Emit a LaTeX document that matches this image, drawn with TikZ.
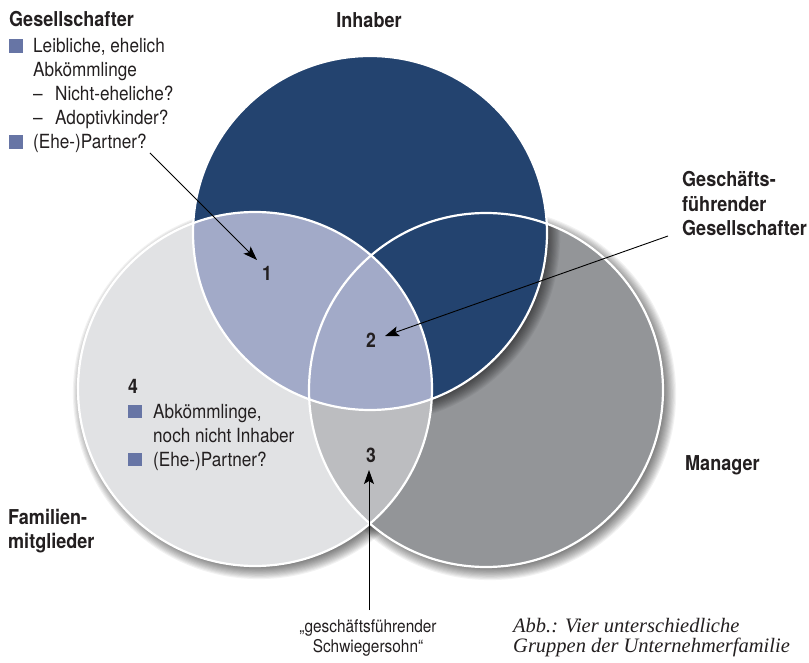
\documentclass[tikz,border=0pt]{standalone}
\usepackage{fontspec}
\setmainfont{TeX Gyre Heros}[FakeStretch=0.88]
\newfontfamily\capfont{Liberation Serif}
\usetikzlibrary{arrows.meta}

\definecolor{ownerblue}{HTML}{23436F}
\definecolor{ownerlight}{HTML}{A2AAC8}
\definecolor{famgray}{HTML}{E1E2E4}
\definecolor{mangray}{HTML}{939598}
\definecolor{midgray}{HTML}{BCBDC0}
\definecolor{bulletc}{HTML}{6775A5}
\definecolor{ink}{HTML}{231F20}

% square bullet used in the lists
\newcommand{\sqbul}{\textcolor{bulletc}{\rule{13.5pt}{13.5pt}}}

\begin{document}
\begin{tikzpicture}[x=1pt,y=-1pt,
  txt/.style={inner sep=0pt, text=ink, font=\fontsize{19.5}{24}\selectfont},
  head/.style={inner sep=0pt, text=ink, font=\bfseries\fontsize{20.5}{24.5}\selectfont},
  num/.style={inner sep=0pt, text=ink, font=\bfseries\fontsize{20}{24}\selectfont, anchor=base},
  pointer/.style={draw=black, line width=0.9pt, -{Stealth[length=14pt,width=10pt,inset=3pt]}},
  ring/.style={draw=white, line width=2.2pt},
  shade/.style={fill=black, opacity=0.05}]

\useasboundingbox (0,0) rectangle (809,663);
\fill[white] (0,0) rectangle (809,663);

% circle centres
\coordinate (cO) at (370,233);
\coordinate (cF) at (255,389);
\coordinate (cM) at (486,390);
\def\R{177pt}

% soft drop shadows of the two lower circles
\foreach \c in {cF,cM}{
  \foreach \i in {0,...,11}{
    \fill[shade] ([shift={(4,4)}]\c) circle[radius=174pt+\i*1.1pt];
  }
}

% family and manager circles
\fill[famgray] (cF) circle[radius=\R];
\fill[mangray] (cM) circle[radius=\R];

% shadow of the owner circle falling on the manager circle
\begin{scope}
  \clip (cM) circle[radius=\R];
  \foreach \i in {0,...,11}{
    \fill[shade] ([shift={(4,4)}]cO) circle[radius=174pt+\i*1.1pt];
  }
\end{scope}

% family ∩ manager
\begin{scope}
  \clip (cF) circle[radius=\R];
  \fill[midgray] (cM) circle[radius=\R];
\end{scope}

% owner circle and its overlap with the family
\fill[ownerblue] (cO) circle[radius=\R];
\begin{scope}
  \clip (cF) circle[radius=\R];
  \fill[ownerlight] (cO) circle[radius=\R];
\end{scope}

% white outlines
\draw[ring] (cF) circle[radius=\R];
\draw[ring] (cM) circle[radius=\R];
\draw[ring] (cO) circle[radius=\R];

% headings
\node[head, anchor=base] (inh) at (369,28) {Inhaber};
\node[head, anchor=base west] (gf) at (682,187)
  {\begin{tabular}[t]{@{}l@{}}Geschäfts-\\führender\\Gesellschafter\end{tabular}};
\node[head, anchor=base west] (mgr) at (685,470) {Manager};
\node[head, anchor=base west] (fam) at (8,524)
  {\begin{tabular}[t]{@{}l@{}}Familien-\\mitglieder\end{tabular}};

% shareholder list
\node[txt, anchor=base west] (ges) at (9,27)
  {\begin{tabular}[t]{@{}l@{}}
    {\bfseries\fontsize{20.5}{24}\selectfont Gesellschafter}\\[2pt]
    \makebox[24pt][l]{\sqbul}Leibliche, ehelich\\
    \hspace*{24pt}Abkömmlinge\\
    \hspace*{24pt}\makebox[22pt][l]{–}Nicht-eheliche?\\
    \hspace*{24pt}\makebox[22pt][l]{–}Adoptivkinder?\\
    \makebox[24pt][l]{\sqbul}(Ehe-)Partner?
  \end{tabular}};

% region numbers
\node[num] (n1) at (267,280) {1};
\node[num] (n2) at (371,347) {2};
\node[num] (n3) at (371,462) {3};
\node[num, anchor=base west] (n4) at (128,393) {4};

% family member list
\node[txt, anchor=base west] (fl) at (128,418)
  {\begin{tabular}[t]{@{}l@{}}
    \makebox[25pt][l]{\sqbul}Abkömmlinge,\\
    \hspace*{25pt}noch nicht Inhaber\\
    \makebox[25pt][l]{\sqbul}(Ehe-)Partner?
  \end{tabular}};

% bottom texts
\node[txt, anchor=base, font=\fontsize{17.5}{20}\selectfont] (sw) at (368,632)
  {\begin{tabular}[t]{@{}c@{}}„geschäftsführender\\Schwiegersohn“\end{tabular}};
\node[anchor=base west, inner sep=0pt, text=ink,
      font=\capfont\itshape\fontsize{20.5}{20}\selectfont] (cap) at (513,632)
  {\begin{tabular}[t]{@{}l@{}}Abb.: Vier unterschiedliche\\Gruppen der Unternehmerfamilie\end{tabular}};

% pointers
\coordinate (p1s) at (150,153);
\coordinate (p1e) at (257,260);
\coordinate (p2s) at (668,236);
\coordinate (p2e) at (385,336);
\coordinate (p3s) at (369,610);
\coordinate (p3e) at (369,470);
\draw[pointer] (p1s) -- (p1e);
\draw[pointer] (p2s) -- (p2e);
\draw[pointer] (p3s) -- (p3e);

\end{tikzpicture}
\end{document}
